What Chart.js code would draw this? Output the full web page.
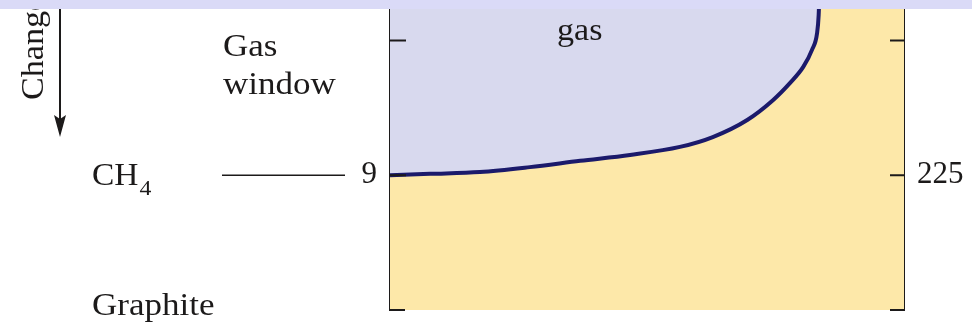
<!DOCTYPE html>
<html>
<head>
<meta charset="utf-8">
<script src="https://cdn.jsdelivr.net/npm/chart.js@4"></script>
<style>
html, body { margin: 0; padding: 0; background: #fff; }
#wrap { width: 972px; height: 328px; }
</style>
</head>
<body>
<div id="wrap"><canvas id="chart" width="972" height="328"></canvas></div>
<script>
// gas window boundary: x as % across the panel, depth on the left scale
var boundaryX = [0, 7.8, 17.5, 27.2, 37.0, 46.7, 56.4, 62.8, 69.5, 74.5, 77.8, 80.4, 82.1, 83.1, 83.4, 83.5];
var boundaryDepth = [9.0, 8.97, 8.93, 8.82, 8.68, 8.55, 8.37, 8.15, 7.77, 7.33, 6.95, 6.59, 6.21, 5.83, 5.43, 5.1];

// axis ticks (left = depth, right = temperature)
var leftTicks = [6, 9];
var leftLabels = ['', '9'];
var rightTicks = [150, 225];
var rightLabels = ['', '225'];

var depthMin = 5.1, depthMax = 12;
var tempMin = 127.5, tempMax = 300;

var serif = '"Liberation Serif", "Times New Roman", serif';
var ink = '#1c1a1a';

function stretchText(ctx, s, x, y, size, sx) {
  ctx.save();
  ctx.translate(x, y);
  ctx.scale(sx, 1);
  ctx.font = size + 'px ' + serif;
  ctx.fillText(s, 0, 0);
  var w = ctx.measureText(s).width * sx;
  ctx.restore();
  return w;
}

var decor = {
  id: 'decor',
  beforeDatasetsDraw: function(chart) {
    var ca = chart.chartArea, ctx = chart.ctx;
    ctx.save();
    ctx.fillStyle = '#fde8a9';
    ctx.fillRect(ca.left, ca.top, ca.right - ca.left, ca.bottom - ca.top);
    ctx.restore();
  },
  afterDraw: function(chart) {
    var ca = chart.chartArea, ctx = chart.ctx;
    var yl = chart.scales.y, yr = chart.scales.y2;
    ctx.save();
    ctx.strokeStyle = ink;
    ctx.lineWidth = 2;
    ctx.beginPath();
    leftTicks.forEach(function(v) {
      var p = yl.getPixelForValue(v);
      ctx.moveTo(ca.left, p); ctx.lineTo(ca.left + 16, p);
    });
    rightTicks.forEach(function(v) {
      var p = yr.getPixelForValue(v);
      ctx.moveTo(ca.right - 14, p); ctx.lineTo(ca.right, p);
    });
    // feet at the bottom of both axes
    ctx.moveTo(ca.left - 1, ca.bottom); ctx.lineTo(ca.left + 15, ca.bottom);
    ctx.moveTo(ca.right - 14, ca.bottom); ctx.lineTo(ca.right + 1, ca.bottom);
    ctx.stroke();

    // CH4 leader line to the 9 tick
    var p9 = yl.getPixelForValue(9);
    ctx.lineWidth = 1.5;
    ctx.beginPath();
    ctx.moveTo(222, p9); ctx.lineTo(345, p9);
    ctx.stroke();

    ctx.fillStyle = ink;
    ctx.textBaseline = 'alphabetic';
    stretchText(ctx, 'Gas', 223, 56, 31, 1.13);
    stretchText(ctx, 'window', 223, 94, 31, 1.13);
    var w = stretchText(ctx, 'CH', 92, p9 + 10, 31, 1.08);
    stretchText(ctx, '4', 92 + w + 1, p9 + 20, 22, 1.08);
    stretchText(ctx, 'Graphite', 92, 315, 31, 1.13);
    stretchText(ctx, 'gas', 557, 40, 31, 1.1);

    // rotated "Change" label and arrow
    ctx.save();
    ctx.translate(43, 100);
    ctx.rotate(-Math.PI / 2);
    stretchText(ctx, 'Change', 0, 0, 31, 1.1);
    ctx.restore();

    ctx.lineWidth = 2;
    ctx.beginPath();
    ctx.moveTo(60, 0); ctx.lineTo(60, 122);
    ctx.stroke();
    ctx.beginPath();
    ctx.moveTo(54, 115); ctx.lineTo(60, 119); ctx.lineTo(66, 115); ctx.lineTo(60, 137);
    ctx.closePath();
    ctx.fill();

    // lavender band across the top
    ctx.fillStyle = '#dadaf7';
    ctx.fillRect(0, 0, chart.width, 9);
    ctx.restore();
  }
};

function fixWidth(w) {
  return function(scale) {
    scale.width = w;
    scale.paddingTop = 0;
    scale.paddingBottom = 0;
  };
}

new Chart(document.getElementById('chart'), {
  type: 'line',
  data: {
    datasets: [{
      data: boundaryX.map(function(x, i) { return { x: x, y: boundaryDepth[i] }; }),
      yAxisID: 'y',
      borderColor: '#1b1a6b',
      borderWidth: 4,
      backgroundColor: '#d8d9ee',
      fill: { value: depthMin },
      cubicInterpolationMode: 'monotone',
      pointRadius: 0
    }]
  },
  options: {
    responsive: false,
    animation: false,
    layout: { padding: { top: 0, bottom: 18, left: 0, right: 0 } },
    plugins: { legend: { display: false }, tooltip: { enabled: false } },
    scales: {
      x: { type: 'linear', display: false, min: 0, max: 100 },
      y: {
        position: 'left', reverse: true, min: depthMin, max: depthMax, z: 1,
        grid: { display: false, drawTicks: false },
        border: { display: true, color: ink, width: 2 },
        afterBuildTicks: function(s) { s.ticks = leftTicks.map(function(v) { return { value: v }; }); },
        afterFit: fixWidth(390),
        ticks: {
          padding: 13, color: ink, font: { family: serif, size: 31 },
          callback: function(v) { var i = leftTicks.indexOf(v); return i < 0 ? '' : leftLabels[i]; }
        }
      },
      y2: {
        position: 'right', reverse: true, min: tempMin, max: tempMax, z: 1,
        grid: { display: false, drawTicks: false },
        border: { display: true, color: ink, width: 2 },
        afterBuildTicks: function(s) { s.ticks = rightTicks.map(function(v) { return { value: v }; }); },
        afterFit: fixWidth(68),
        ticks: {
          padding: 13, color: ink, font: { family: serif, size: 31 },
          callback: function(v) { var i = rightTicks.indexOf(v); return i < 0 ? '' : rightLabels[i]; }
        }
      }
    }
  },
  plugins: [decor]
});
</script>
</body>
</html>
